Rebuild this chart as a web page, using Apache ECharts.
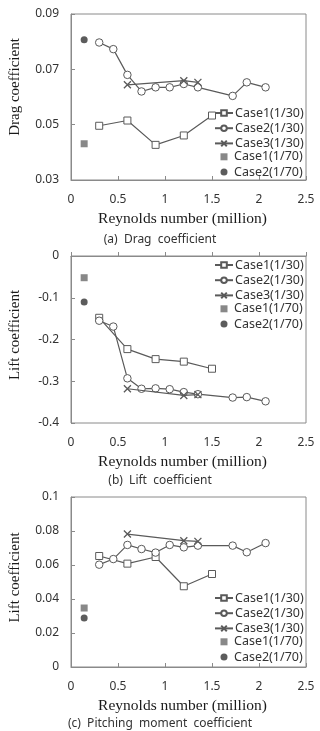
<!DOCTYPE html>
<html><head><meta charset="utf-8">
<script src="https://cdn.jsdelivr.net/npm/echarts@6/dist/echarts.min.js"></script>
<style>html,body{margin:0;padding:0;background:#fff}#c{width:320px;height:731px}</style>
</head><body><div id="c"></div>
<script>
// ---- data ----
const lineLegendNames = ['Case1(1/30)', 'Case2(1/30)', 'Case3(1/30)'];
const pointLegendNames = ['Case1(1/70)', 'Case2(1/70)'];
const reCase1_30 = [0.3, 0.6, 0.9, 1.2, 1.5];
const reCase2_30 = [0.3, 0.45, 0.6, 0.75, 0.9, 1.05, 1.2, 1.35, 1.72, 1.87, 2.07];
const reCase3_30 = [0.6, 1.2, 1.35];
const reCase_70 = [0.14];

const dragCase1_30 = [0.0496, 0.0515, 0.0427, 0.0461, 0.0533];
const dragCase2_30 = [0.0797, 0.0773, 0.0680, 0.0620, 0.0635, 0.0635, 0.0647, 0.0635, 0.0604, 0.0653, 0.0635];
const dragCase3_30 = [0.0644, 0.0659, 0.0653];
const dragCase1_70 = [0.0431];
const dragCase2_70 = [0.0807];

const liftCase1_30 = [-0.148, -0.223, -0.247, -0.253, -0.270];
const liftCase2_30 = [-0.155, -0.169, -0.293, -0.318, -0.317, -0.319, -0.326, -0.331, -0.339, -0.338, -0.348];
const liftCase3_30 = [-0.318, -0.334, -0.332];
const liftCase1_70 = [-0.052];
const liftCase2_70 = [-0.110];

const pitchCase1_30 = [0.0653, 0.0608, 0.0647, 0.0475, 0.0547];
const pitchCase2_30 = [0.0602, 0.0635, 0.0718, 0.0694, 0.0673, 0.0718, 0.0704, 0.0714, 0.0714, 0.0675, 0.0729];
const pitchCase3_30 = [0.0782, 0.0743, 0.0739];
const pitchCase1_70 = [0.0347];
const pitchCase2_70 = [0.0288];

const xName = 'Reynolds number (million)';
const yNames = ['Drag coefficient', 'Lift coefficient', 'Lift coefficient'];
const captions = ['(a)  Drag  coefficient', '(b)  Lift  coefficient', '(c)  Pitching  moment  coefficient'];
const yRanges = [[0.03, 0.09, 0.02], [-0.4, 0, 0.1], [0, 0.1, 0.02]];
const xRange = [0, 2.5, 0.5];

// ---- layout ----
const grids = [
  {left: 68, top: 14, width: 238, height: 166},
  {left: 68, top: 256, width: 238, height: 167},
  {left: 68, top: 497, width: 238, height: 170}
];
const legendTop = [106.5, 258.5, 591.5];
const legendStep = 14.6;
const captionTop = [229, 470, 713];
const yNamePad = [20, 9, 9];

const pair = (xs, ys) => xs.map((x, i) => [x, ys[i]]);
const lineCol = '#5a5a5a';
const crossPath = 'path://M0,0L10,10M10,0L0,10';

const sets = [
  [dragCase1_30, dragCase2_30, dragCase3_30, dragCase1_70, dragCase2_70],
  [liftCase1_30, liftCase2_30, liftCase3_30, liftCase1_70, liftCase2_70],
  [pitchCase1_30, pitchCase2_30, pitchCase3_30, pitchCase1_70, pitchCase2_70]
];

const series = [];
sets.forEach((s, g) => {
  const lineBase = {type: 'line', xAxisIndex: g, yAxisIndex: g, symbolSize: 7,
    lineStyle: {color: lineCol, width: 1.2}, z: 3};
  series.push(Object.assign({}, lineBase, {name: lineLegendNames[0], data: pair(reCase1_30, s[0]), symbol: 'rect',
    itemStyle: {color: '#fff', borderColor: lineCol, borderWidth: 1}}));
  series.push(Object.assign({}, lineBase, {name: lineLegendNames[1], data: pair(reCase2_30, s[1]), symbol: 'circle', symbolSize: 7.5,
    itemStyle: {color: '#fff', borderColor: lineCol, borderWidth: 1}}));
  series.push(Object.assign({}, lineBase, {name: lineLegendNames[2], data: pair(reCase3_30, s[2]), symbol: crossPath, symbolSize: 7,
    itemStyle: {color: 'none', borderColor: lineCol, borderWidth: 1.3}, z: 4}));
  series.push({type: 'scatter', name: pointLegendNames[0], xAxisIndex: g, yAxisIndex: g, data: pair(reCase_70, s[3]),
    symbol: 'rect', symbolSize: 7, itemStyle: {color: '#6a6a6a'}});
  series.push({type: 'scatter', name: pointLegendNames[1], xAxisIndex: g, yAxisIndex: g, data: pair(reCase_70, s[4]),
    symbol: 'circle', symbolSize: 7, itemStyle: {color: '#333'}});
});

const sans = '"Noto Sans", "Open Sans", sans-serif';
const serif = '"Liberation Serif", "DejaVu Serif", serif';
const axisCol = '#8a8a8a';

const legends = [];
grids.forEach((g, i) => {
  legends.push({
    data: lineLegendNames, orient: 'vertical', left: 214, top: legendTop[i],
    itemWidth: 18, itemHeight: 7, itemGap: 2.2, padding: 0, selectedMode: false,
    textStyle: {fontFamily: sans, fontSize: 12.5, color: '#333', padding: [0, 0, 0, -3]}
  });
  legends.push({
    data: pointLegendNames, orient: 'vertical', left: 220.5, top: legendTop[i] + 3 * legendStep,
    itemWidth: 7, itemHeight: 7, itemGap: 2.2, padding: 0, selectedMode: false,
    textStyle: {fontFamily: sans, fontSize: 12.5, color: '#333', padding: [0, 0, 0, 1.5]}
  });
});

const option = {
  animation: false,
  backgroundColor: '#fff',
  title: captions.map((t, i) => ({text: t, left: 'center', top: captionTop[i],
    textStyle: {fontFamily: sans, fontSize: 12, fontWeight: 'normal', color: '#333'}})),
  grid: grids.map(g => Object.assign({show: true, borderColor: axisCol, borderWidth: 1, backgroundColor: 'transparent'}, g)),
  legend: legends,
  xAxis: grids.map((g, i) => ({
    type: 'value', gridIndex: i, min: xRange[0], max: xRange[1], interval: xRange[2],
    name: xName, nameLocation: 'middle', nameGap: 31,
    nameTextStyle: {fontFamily: serif, fontSize: 15.5, color: '#1a1a1a', padding: [0, 12, 0, 0]},
    axisLine: {show: true, lineStyle: {color: axisCol}},
    axisTick: {show: true, inside: true, length: 4, lineStyle: {color: axisCol}},
    axisLabel: {fontFamily: sans, fontSize: 12, color: '#333', margin: 14, formatter: v => String(+v.toFixed(2))},
    splitLine: {show: false}
  })),
  yAxis: grids.map((g, i) => ({
    type: 'value', gridIndex: i, min: yRanges[i][0], max: yRanges[i][1], interval: yRanges[i][2],
    name: yNames[i], nameLocation: 'middle', nameGap: 48,
    nameTextStyle: {fontFamily: serif, fontSize: 15, color: '#1a1a1a', padding: [0, 0, 0, yNamePad[i]]},
    axisLine: {show: true, lineStyle: {color: axisCol}},
    axisTick: {show: true, inside: true, length: 4, lineStyle: {color: axisCol}},
    axisLabel: {fontFamily: sans, fontSize: 12, color: '#333', margin: 12, formatter: v => String(+v.toFixed(2))},
    splitLine: {show: false}
  })),
  series: series
};
echarts.init(document.getElementById('c'), null, {renderer: 'canvas'}).setOption(option);
</script>
</body></html>
